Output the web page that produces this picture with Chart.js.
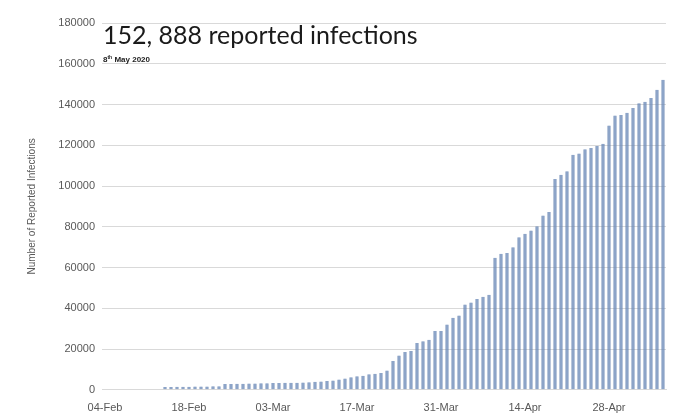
<!DOCTYPE html>
<html>
<head>
<meta charset="utf-8">
<script src="https://cdn.jsdelivr.net/npm/chart.js@4.4.1/dist/chart.umd.min.js"></script>
<style>
  html, body { margin: 0; padding: 0; background: #fff; }
  #wrap { width: 678px; height: 419px; position: relative; }
</style>
</head>
<body>
<div id="wrap"><canvas id="chart"></canvas></div>
<script>
// Données (cumul des infections signalées)
const premierJour = "2020-02-04";
const nbJours = 94; // 04-Feb -> 07-May
const etiquettesAxe = ["04-Feb", "18-Feb", "03-Mar", "17-Mar", "31-Mar", "14-Apr", "28-Apr"];

const infections = [
  // 04-Feb -> 13-Feb
  0, 0, 0, 0, 0, 0, 0, 0, 0, 0,
  // 14-Feb -> 23-Feb
  1400, 1400, 1500, 1500, 1500, 1600, 1600, 1600, 1700, 1700,
  // 24-Feb -> 10-Mar
  2800, 2900, 3000, 3000, 3100, 3100, 3200, 3200, 3300, 3300, 3400, 3400, 3500, 3600, 3700, 3900,
  // 11-Mar -> 20-Mar
  4100, 4300, 4600, 5000, 5500, 6200, 6600, 6900, 7600, 7900,
  // 21-Mar -> 18-Apr
  8200, 9500, 14100, 16800, 18500, 19000, 23000, 23800, 24600, 28800,
  28800, 32000, 35400, 36500, 41800, 42900, 44500, 45700, 46700, 64800,
  66800, 67100, 70000, 74900, 76600, 78200, 80300, 85500, 87300,
  // 19-Apr -> 07-May
  103500, 105500, 107300, 115400, 116000, 118000, 118700, 119700, 120700, 129700,
  134600, 134900, 135900, 138300, 140600, 141300, 143200, 147200, 152200
];

const titre = "152, 888 reported infections";
const sousTitre = ["8", "th", " May 2020"];

// Catégories : un jour par barre
const mois = ["Jan", "Feb", "Mar", "Apr", "May", "Jun"];
const jours = [];
const d0 = new Date(premierJour + "T00:00:00Z");
for (let i = 0; i < nbJours; i++) {
  const d = new Date(d0.getTime() + i * 86400000);
  jours.push(String(d.getUTCDate()).padStart(2, "0") + "-" + mois[d.getUTCMonth()]);
}

// Titre dessiné dans la zone du graphique
const titrePlugin = {
  id: "titre",
  afterDraw(chart) {
    const ctx = chart.ctx;
    const x = chart.chartArea.left + 1;
    ctx.save();
    ctx.fillStyle = "#1a1a1a";
    ctx.textBaseline = "alphabetic";
    ctx.font = "25px Lato";
    ctx.fillText(titre, x, 44);

    ctx.font = "bold 8px 'Liberation Sans'";
    ctx.fillStyle = "#222";
    let cx = x;
    ctx.fillText(sousTitre[0], cx, 62);
    cx += ctx.measureText(sousTitre[0]).width;
    ctx.font = "bold 5px 'Liberation Sans'";
    ctx.fillText(sousTitre[1], cx, 59);
    cx += ctx.measureText(sousTitre[1]).width;
    ctx.font = "bold 8px 'Liberation Sans'";
    ctx.fillText(sousTitre[2], cx, 62);
    ctx.restore();
  },
};

const ctx = document.getElementById("chart").getContext("2d");
new Chart(ctx, {
  type: "bar",
  data: {
    labels: jours,
    datasets: [
      {
        data: infections,
        backgroundColor: "#6f8dbb",
        borderColor: "#5878aa",
        borderWidth: { left: 1, right: 1, top: 0, bottom: 0 },
        categoryPercentage: 1,
        barPercentage: 0.55,
      },
    ],
  },
  options: {
    responsive: true,
    maintainAspectRatio: false,
    animation: false,
    layout: { padding: { left: 22, right: 12, top: 23, bottom: 0 } },
    plugins: { legend: { display: false }, tooltip: { enabled: false } },
    scales: {
      x: {
        grid: { display: false },
        border: { display: true, color: "#d9d9d9" },
        ticks: {
          autoSkip: false,
          maxRotation: 0,
          minRotation: 0,
          padding: 4,
          color: "#595959",
          font: { family: "'Liberation Sans'", size: 11 },
          callback: function (v) {
            const l = this.getLabelForValue(v);
            return etiquettesAxe.includes(l) ? l : "";
          },
        },
      },
      y: {
        min: 0,
        max: 180000,
        afterFit: (s) => { s.width = 80; },
        grid: { color: "#d9d9d9", drawTicks: false },
        border: { display: false },
        ticks: {
          stepSize: 20000,
          padding: 7,
          color: "#595959",
          font: { family: "'Liberation Sans'", size: 11 },
          callback: (v) => String(v),
        },
        title: {
          display: true,
          text: "Number of Reported Infections",
          color: "#595959",
          font: { family: "'Liberation Sans'", size: 10 },
          padding: { top: 4, bottom: 4 },
        },
      },
    },
  },
  plugins: [titrePlugin],
});
</script>
</body>
</html>
